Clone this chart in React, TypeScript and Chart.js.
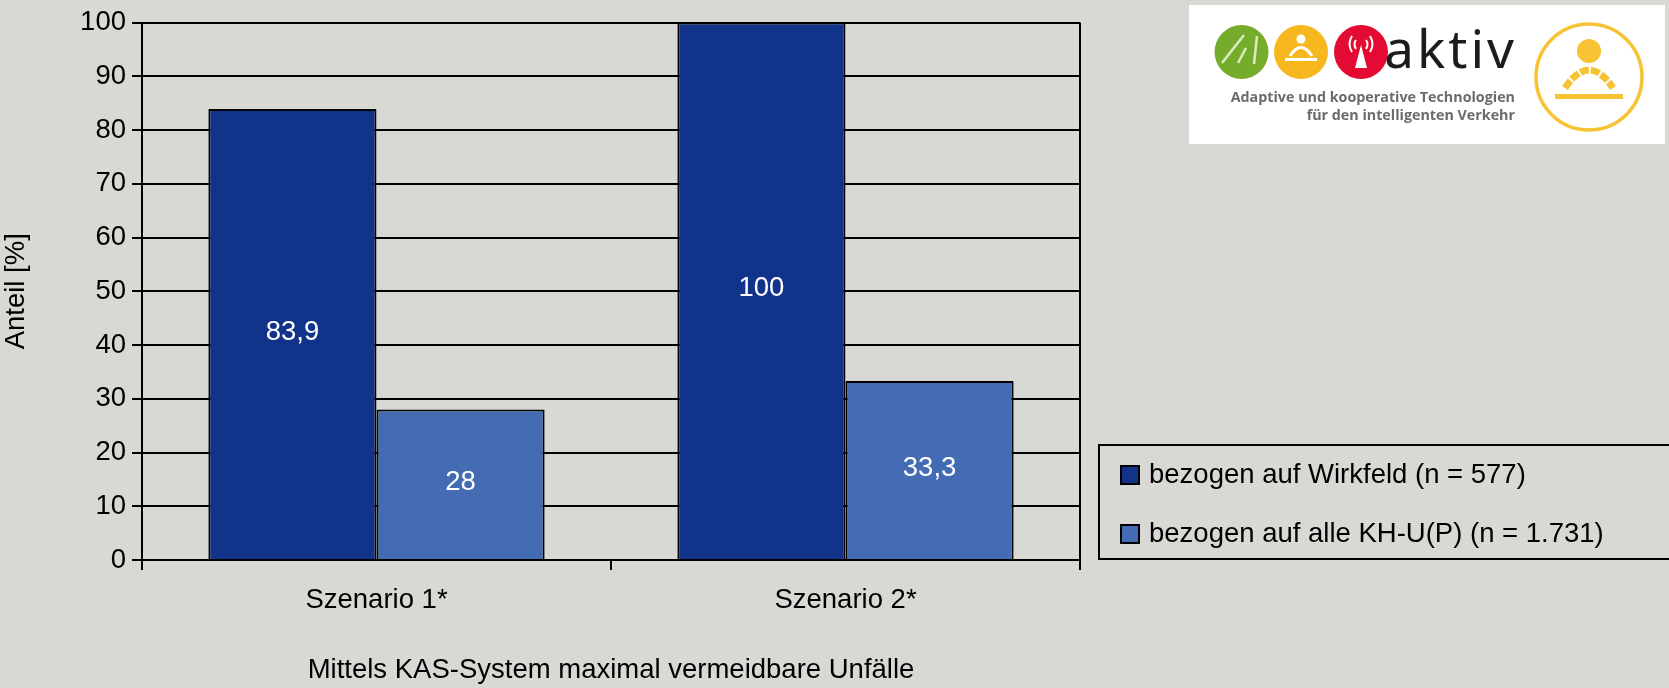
import React, { useEffect, useRef } from "react";
import { Chart, registerables } from "chart.js";

Chart.register(...registerables);

const categories = ["Szenario 1*", "Szenario 2*"];
const wirkfeldValues = [83.9, 100];
const alleValues = [28, 33.3];
const seriesLabels = ["bezogen auf Wirkfeld (n = 577)", "bezogen auf alle KH-U(P) (n = 1.731)"];
const seriesColors = ["#12338A", "#436CB4"];
const yAxisTitle = "Anteil [%]";
const xAxisTitle = "Mittels KAS-System maximal vermeidbare Unfälle";

const FONT = "'Liberation Sans', Arial, sans-serif";
const BG = "#D8D9D4";
const FONT_SIZE = 27.5;

// Prints each value in the middle of its bar, with a decimal comma.
const barValueLabels = {
  id: "barValueLabels",
  afterDatasetsDraw(chart: any) {
    const { ctx } = chart;
    ctx.save();
    ctx.fillStyle = "#FFFFFF";
    ctx.font = `${FONT_SIZE}px ${FONT}`;
    ctx.textAlign = "center";
    ctx.textBaseline = "middle";
    chart.data.datasets.forEach((ds: any, di: number) => {
      chart.getDatasetMeta(di).data.forEach((bar: any, i: number) => {
        const text = String(ds.data[i]).replace(".", ",");
        ctx.fillText(text, bar.x, (bar.y + bar.base) / 2 - 2);
      });
    });
    ctx.restore();
  },
};

// Closes the plot on the right and draws the boxed legend beside it.
const frameAndLegend = {
  id: "frameAndLegend",
  afterDraw(chart: any) {
    const { ctx, chartArea } = chart;
    ctx.save();
    ctx.strokeStyle = "#000000";
    ctx.lineWidth = 2;
    ctx.beginPath();
    ctx.moveTo(chartArea.right, chartArea.top);
    ctx.lineTo(chartArea.right, chartArea.bottom);
    ctx.stroke();

    const boxLeft = 1099;
    const boxTop = 445;
    const boxBottom = 559;
    ctx.beginPath();
    ctx.rect(boxLeft, boxTop, 575, boxBottom - boxTop);
    ctx.stroke();

    ctx.font = `${FONT_SIZE}px ${FONT}`;
    ctx.textBaseline = "middle";
    ctx.textAlign = "left";
    chart.data.datasets.forEach((ds: any, i: number) => {
      const cy = 475 + i * 59;
      ctx.fillStyle = ds.backgroundColor;
      ctx.fillRect(1121, cy - 9, 18, 18);
      ctx.strokeRect(1121, cy - 9, 18, 18);
      ctx.fillStyle = "#000000";
      ctx.fillText(ds.label, 1149, cy);
    });
    ctx.restore();
  },
};

function ProjectLogo() {
  const amber = "#F6B81E";
  return (
    <svg
      width={476}
      height={139}
      viewBox="1189 5 476 139"
      style={{ position: "absolute", left: 1189, top: 5, filter: "blur(0.7px)" }}
    >
      <rect x={1189} y={5} width={476} height={139} fill="#FFFFFF" />
      <circle cx={1241.5} cy={52} r={27} fill="#76AC2C" />
      <path d="M1222 63 L1244 35 M1238 63 L1246 48 M1254 64 L1257 36" stroke="#DDEBC0" strokeWidth={2.5} fill="none" />
      <circle cx={1301} cy={52} r={27} fill={amber} />
      <circle cx={1301} cy={39} r={4.5} fill="#FFFFFF" />
      <path d="M1290 56 Q1301 39 1312 56" stroke="#FFFFFF" strokeWidth={3} fill="none" />
      <rect x={1285} y={58} width={32} height={3} fill="#FFFFFF" />
      <circle cx={1361} cy={52} r={27} fill="#E30B34" />
      <path d="M1361 45 L1367 68 L1355 68 Z" fill="#FFFFFF" />
      <path d="M1352 36 Q1347 44 1352 52 M1370 36 Q1375 44 1370 52 M1356 40 Q1353 44 1356 49 M1366 40 Q1369 44 1366 49" stroke="#FFFFFF" strokeWidth={2} fill="none" />
      <text x={1517} y={68} textAnchor="end" fontFamily="'Noto Sans', sans-serif" fontSize={53} letterSpacing={3} fill="#1C1C1C">aktiv</text>
      <g fontFamily="'Open Sans', sans-serif" fontWeight={700} fontSize={14.3} fill="#6B6B6B" textAnchor="end">
        <text x={1515} y={102}>Adaptive und kooperative Technologien</text>
        <text x={1515} y={120}>für den intelligenten Verkehr</text>
      </g>
      <circle cx={1589} cy={77} r={53} fill="none" stroke="#F7C335" strokeWidth={3.5} />
      <circle cx={1589} cy={51} r={12} fill="#F7C335" />
      <path d="M1565 88 Q1589 52 1613 88" stroke="#F7C335" strokeWidth={7} strokeDasharray="9 2" fill="none" />
      <rect x={1555} y={94} width={68} height={5} fill="#F7C335" />
    </svg>
  );
}

export default function App() {
  const canvasRef = useRef<HTMLCanvasElement | null>(null);

  useEffect(() => {
    document.body.style.margin = "0";
    document.body.style.background = BG;
    const chart = new Chart(canvasRef.current!, {
      type: "bar",
      data: {
        labels: categories,
        datasets: [
          { label: seriesLabels[0], data: wirkfeldValues, backgroundColor: seriesColors[0], borderColor: "#000000", borderWidth: 2, categoryPercentage: 0.717, barPercentage: 1 },
          { label: seriesLabels[1], data: alleValues, backgroundColor: seriesColors[1], borderColor: "#000000", borderWidth: 2, categoryPercentage: 0.717, barPercentage: 1 },
        ],
      },
      options: {
        responsive: false,
        animation: false,
        layout: { padding: { top: 21, right: 589, left: 0, bottom: 0 } },
        plugins: { legend: { display: false }, tooltip: { enabled: false } },
        scales: {
          x: {
            afterFit: (scale: any) => { scale.height = 128; },
            grid: { drawOnChartArea: false, drawTicks: true, tickLength: 10, color: "#000000", lineWidth: 2, offset: true },
            border: { color: "#000000", width: 2 },
            ticks: { color: "#000000", font: { family: FONT, size: FONT_SIZE }, padding: 14, maxRotation: 0 },
            title: { display: true, text: xAxisTitle, color: "#000000", font: { family: FONT, size: FONT_SIZE }, padding: { top: 0, bottom: 1 } },
          },
          y: {
            min: 0,
            max: 100,
            afterFit: (scale: any) => { scale.width = 142; },
            grid: { color: "#000000", lineWidth: 2, tickLength: 10 },
            border: { color: "#000000", width: 2 },
            ticks: { stepSize: 10, color: "#000000", font: { family: FONT, size: FONT_SIZE }, padding: 6 },
            title: { display: true, text: yAxisTitle, color: "#000000", font: { family: FONT, size: FONT_SIZE }, padding: { top: 0, bottom: 0 } },
          },
        },
      },
      plugins: [barValueLabels, frameAndLegend],
    } as any);
    return () => chart.destroy();
  }, []);

  return (
    <div style={{ position: "relative", width: 1669, height: 688, background: BG, overflow: "hidden" }}>
      <canvas ref={canvasRef} width={1669} height={688} style={{ display: "block" }} />
      <ProjectLogo />
    </div>
  );
}
